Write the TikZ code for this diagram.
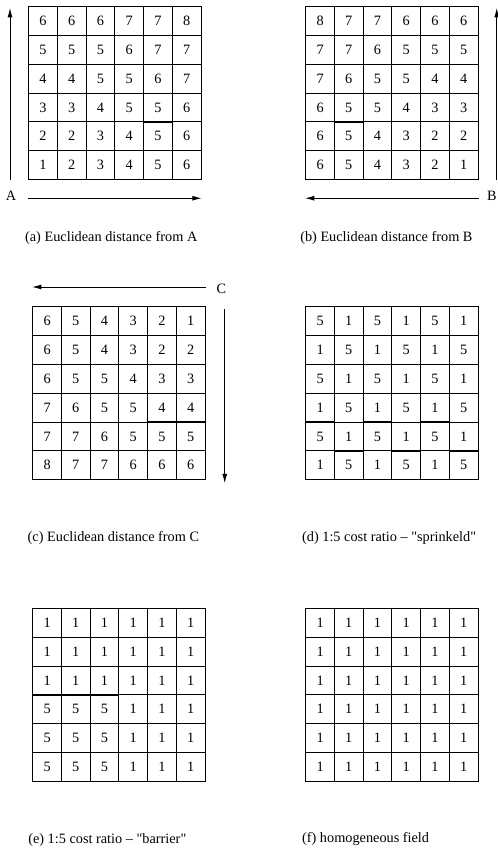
\documentclass[tikz,border=0pt]{standalone}
\usepackage{fontspec}
\setmainfont{Liberation Serif}[Ligatures=TeXOff]
\usetikzlibrary{arrows.meta,positioning,matrix}
\tikzset{
  celda/.style={draw, line width=0.6pt, minimum size=20.1pt, inner sep=0pt, font=\normalsize},
  malla/.style={matrix of nodes, anchor=north west, inner sep=0pt, column sep=-0.6pt, row sep=-0.6pt, nodes={celda}},
  fl/.style={-{Latex[length=6.5pt,width=3.4pt]}, line width=0.6pt},
  pie/.style={inner sep=0pt, text height=7pt, text depth=2pt, font=\normalsize},
  et/.style={inner sep=0pt, font=\normalsize},
}

\begin{document}
\begin{tikzpicture}[x=0.7pt, y=-0.7pt]
  \useasboundingbox (0,0) rectangle (497,850);
  \matrix (ga) [malla] at (28,6) {
    6 & 6 & 6 & 7 & 7 & 8 \\
    5 & 5 & 5 & 6 & 7 & 7 \\
    4 & 4 & 5 & 5 & 6 & 7 \\
    3 & 3 & 4 & 5 & 5 & 6 \\
    2 & 2 & 3 & 4 & 5 & 6 \\
    1 & 2 & 3 & 4 & 5 & 6 \\
  };
  \matrix (gb) [malla] at (305,6) {
    8 & 7 & 7 & 6 & 6 & 6 \\
    7 & 7 & 6 & 5 & 5 & 5 \\
    7 & 6 & 5 & 5 & 4 & 4 \\
    6 & 5 & 5 & 4 & 3 & 3 \\
    6 & 5 & 4 & 3 & 2 & 2 \\
    6 & 5 & 4 & 3 & 2 & 1 \\
  };
  \matrix (gc) [malla] at (32,306) {
    6 & 5 & 4 & 3 & 2 & 1 \\
    6 & 5 & 4 & 3 & 2 & 2 \\
    6 & 5 & 5 & 4 & 3 & 3 \\
    7 & 6 & 5 & 5 & 4 & 4 \\
    7 & 7 & 6 & 5 & 5 & 5 \\
    8 & 7 & 7 & 6 & 6 & 6 \\
  };
  \matrix (gd) [malla] at (305,306) {
    5 & 1 & 5 & 1 & 5 & 1 \\
    1 & 5 & 1 & 5 & 1 & 5 \\
    5 & 1 & 5 & 1 & 5 & 1 \\
    1 & 5 & 1 & 5 & 1 & 5 \\
    5 & 1 & 5 & 1 & 5 & 1 \\
    1 & 5 & 1 & 5 & 1 & 5 \\
  };
  \matrix (ge) [malla] at (32,608) {
    1 & 1 & 1 & 1 & 1 & 1 \\
    1 & 1 & 1 & 1 & 1 & 1 \\
    1 & 1 & 1 & 1 & 1 & 1 \\
    5 & 5 & 5 & 1 & 1 & 1 \\
    5 & 5 & 5 & 1 & 1 & 1 \\
    5 & 5 & 5 & 1 & 1 & 1 \\
  };
  \matrix (gf) [malla] at (305,608) {
    1 & 1 & 1 & 1 & 1 & 1 \\
    1 & 1 & 1 & 1 & 1 & 1 \\
    1 & 1 & 1 & 1 & 1 & 1 \\
    1 & 1 & 1 & 1 & 1 & 1 \\
    1 & 1 & 1 & 1 & 1 & 1 \\
    1 & 1 & 1 & 1 & 1 & 1 \\
  };
  % arrows
  \coordinate[left=12.6pt of ga.south west] (av0);
  \coordinate[below left=1.4pt and 12.6pt of ga.north west] (av1);
  \coordinate[below=12.6pt of ga.south west] (ah0);
  \coordinate[below=12.6pt of ga.south east] (ah1);
  \draw[fl] (av0) -- (av1);
  \draw[fl] (ah0) -- (ah1);
  \node[et, left=8pt of ah0, yshift=2pt] (la) {A};
  \coordinate[right=12.6pt of gb.south east] (bv0);
  \coordinate[below right=1.4pt and 12.6pt of gb.north east] (bv1);
  \coordinate[below=12.6pt of gb.south east] (bh0);
  \coordinate[below=12.6pt of gb.south west] (bh1);
  \draw[fl] (bv0) -- (bv1);
  \draw[fl] (bh0) -- (bh1);
  \node[et, right=5.6pt of bh0, yshift=2pt] (lb) {B};
  \coordinate[above=13.3pt of gc.north east] (ch0);
  \coordinate[above=13.3pt of gc.north west] (ch1);
  \coordinate[below right=2.1pt and 13.3pt of gc.north east] (cv0);
  \coordinate[below right=2.1pt and 13.3pt of gc.south east] (cv1);
  \draw[fl] (ch0) -- (ch1);
  \draw[fl] (cv0) -- (cv1);
  \node[et, right=7.5pt of ch0, yshift=-1pt] (lc) {C};
  % captions
  \node[pie, below right=35.5pt and -2.2pt of ga.south west] (pa) {(a) Euclidean distance from A};
  \node[pie, below right=35.5pt and -3.5pt of gb.south west] (pb) {(b) Euclidean distance from B};
  \node[pie, below right=35.5pt and -3.2pt of gc.south west] (pc) {(c) Euclidean distance from C};
  \node[pie, below right=35.5pt and -2.2pt of gd.south west] (pd) {(d) 1:5 cost ratio \textendash{} "sprinkeld"};
  \node[pie, below right=35.5pt and -2.8pt of ge.south west] (pe) {(e) 1:5 cost ratio \textendash{} "barrier"};
  \node[pie, below right=35.5pt and -2.2pt of gf.south west] (pf) {(f) homogeneous field};
\end{tikzpicture}
\end{document}
